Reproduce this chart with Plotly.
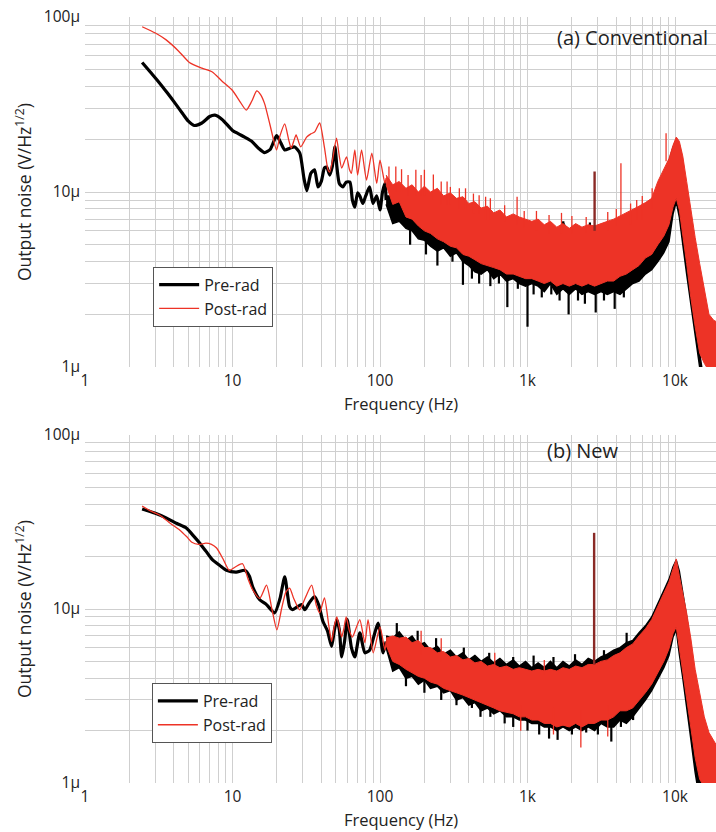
import plotly.graph_objects as go

# ---------------- data (values in µV/√Hz, frequency in Hz) ----------------
# low-frequency traces, panel (a) Conventional
PRE_A_F = [2.44, 2.8, 3.2, 3.6, 4.1, 4.6, 5.0, 5.5, 6.2, 7.0, 7.6, 8.5, 10, 11, 12.1, 13.5, 15, 16.5, 18, 19.9,
           21, 22.6, 24.5, 26.4, 28.6, 30.5, 31.9, 34, 36, 38, 40, 42, 43.5, 45.6, 47.5, 49.5, 51, 53, 56, 59,
           62.5, 65, 67.5, 70.5, 73, 76.5, 80, 85, 89.6, 95, 100, 104, 108, 110]
PRE_A_V = [55, 48, 42, 37, 32, 28, 25.5, 24, 24.8, 27, 27.5, 26, 22.5, 21.5, 20.6, 19.5, 17.8, 16.8, 17.5, 21,
           19.5, 17.4, 17.8, 18.1, 16.7, 12, 10.2, 12.8, 13.4, 10.7, 11.5, 13.7, 13.9, 12.5, 14, 18.1, 14, 11.2, 10.7, 11.4,
           11.4, 9.0, 8.2, 9.9, 9.5, 8.6, 9.5, 10.7, 8.6, 9.5, 7.9, 10, 11.2, 9.0]
POST_A_F = [2.44, 3.0, 3.55, 4.3, 5.1, 6.2, 7.3, 8.5, 10, 11.2, 12.4, 13.5, 14.6, 15.5, 16.5, 18, 19.9, 21, 22.6, 24,
            25, 26, 27, 29, 31.8, 34, 36, 39, 42, 44.4, 45.6, 47.5, 50.7, 53, 55, 59.3, 62, 64, 67.5, 70.5,
            75, 81, 88, 95, 100, 108, 110]
POST_A_V = [88, 81, 74, 64, 55, 51, 48.5, 43, 38, 33, 29.4, 33, 37.8, 36, 32, 24, 17.4, 21, 24.5, 20,
            17.8, 19.5, 21.2, 18.1, 20.6, 21.5, 22, 24.8, 18, 13.4, 13, 15, 20.3, 16, 13.7, 15.9, 13.5, 12.8, 17.4, 12.5,
            17.4, 11.7, 16.7, 11.2, 15.2, 11.2, 12.0]

# low-frequency traces, panel (b) New
PRE_B_F = [2.44, 3.0, 3.55, 4.2, 4.86, 5.4, 6.0, 6.6, 7.3, 8.2, 9.1, 10.6, 12.1, 13.0, 13.7, 15.3, 17, 19.3, 21, 22.6,
           24.4, 25.5, 27.5, 29.4, 30.9, 33, 36, 38.5, 41, 44, 47, 49, 51, 53, 55, 57.5, 60, 64, 67.5, 73,
           79, 85, 91, 97, 105, 110]
PRE_B_V = [37.6, 35.5, 33.4, 31, 29.2, 26.5, 23.9, 21.5, 19.2, 17.8, 16.7, 16.3, 16.7, 15.5, 13.4, 11.3, 10.6, 9.5, 11.5, 15.3,
           10.3, 9.9, 10.3, 10.6, 9.9, 10.8, 11.8, 10.5, 8.5, 7.5, 6.1, 7.5, 8.7, 7.6, 5.3, 6.5, 8.7, 6.0, 5.3, 7.3,
           5.6, 5.8, 7.0, 8.3, 5.6, 6.5]
POST_B_F = [2.44, 2.8, 3.2, 3.8, 4.4, 4.9, 5.3, 5.9, 6.6, 7.2, 7.8, 8.6, 9.5, 10.5, 11.7, 12.7, 13.7, 15.3, 17, 18.5,
            20, 21.5, 23, 24.4, 26, 28.5, 31, 34.4, 37, 39, 42, 45, 47, 49, 51, 53, 55, 57, 59, 62,
            65, 69, 73, 79, 83, 90, 100, 108, 110]
POST_B_V = [39, 36.5, 34.7, 31, 28.4, 26, 24.2, 23.5, 23.9, 23.5, 22.4, 19.5, 16.7, 17.5, 18.2, 15, 12.9, 11.5, 13.7, 10,
            7.6, 10, 12.5, 13.2, 11.5, 9.9, 11.5, 13.7, 10.5, 9.5, 11.6, 8.0, 6.5, 8.0, 9.0, 7.8, 6.9, 7.8, 9.0, 7.5,
            6.9, 7.8, 8.7, 6.4, 8.7, 5.6, 7.9, 5.8, 6.5]

# dense-noise region: envelope (upper / lower) of each spectrum
BAND_F = [110, 122, 135, 150, 165, 182, 200, 220, 245, 270,
          300, 330, 365, 400, 440, 485, 535, 590, 650, 720,
          800, 880, 970, 1070, 1180, 1300, 1430, 1580, 1740, 1920,
          2120, 2340, 2580, 2850, 3150, 3480, 3840, 4240, 4680, 5170,
          5700, 6300, 6950, 7650, 8400, 9100, 9700, 10200, 10700, 11300,
          12000, 12800, 13700, 14700, 15800, 17000, 18300, 19500]

PRE_A_UP = [9.5, 9.5, 10.2, 9.0, 9.3, 8.2, 8.8, 7.8, 8.2, 7.3,
            7.7, 7.0, 7.3, 6.6, 7.0, 6.4, 6.8, 6.2, 6.6, 6.0,
            6.4, 5.9, 6.3, 5.8, 6.2, 5.8, 6.3, 5.8, 6.7, 5.9,
            6.2, 6.0, 6.3, 6.1, 6.4, 6.3, 6.5, 6.8, 7.2, 7.6,
            8.0, 8.5, 9.0, 10.5, 12.8, 15.0, 18.0, 19.8, 18.5, 14.5,
            8.5, 5.6, 2.5, 1.2, 0.8, 0.6, 0.45, 0.35]
PRE_A_LO = [8.5, 6.6, 6.8, 6.2, 6.0, 5.4, 5.3, 4.9, 4.6, 4.8,
            4.3, 4.5, 4.0, 3.8, 3.5, 3.4, 3.6, 3.2, 3.4, 3.1,
            3.2, 3.0, 2.9, 3.0, 2.9, 2.7, 3.0, 2.6, 2.8, 2.6,
            2.8, 2.6, 2.7, 2.6, 2.7, 2.6, 2.7, 2.6, 2.8, 3.0,
            3.1, 3.4, 3.6, 4.0, 4.5, 5.2, 7.5, 8.8, 7.2, 5.0,
            3.4, 2.2, 1.5, 1.0, 0.7, 0.5, 0.35, 0.25]
POST_A_UP = [12.5, 11.0, 11.5, 10.5, 11.0, 10.0, 10.8, 10.0, 10.5, 9.5,
             9.9, 9.2, 9.4, 8.6, 8.8, 8.1, 8.3, 7.6, 7.9, 7.2,
             7.5, 7.2, 7.0, 6.8, 7.0, 6.5, 6.8, 6.3, 6.6, 6.2,
             6.6, 6.3, 6.5, 6.4, 6.6, 6.8, 7.0, 7.3, 7.6, 7.9,
             8.3, 8.7, 9.2, 11.5, 13.5, 15.5, 18.5, 20.6, 19.5, 16.0,
             11.5, 7.9, 5.5, 3.9, 2.8, 2.0, 1.85, 1.8]
POST_A_LO = [11.0, 8.5, 8.8, 7.2, 7.0, 6.4, 6.0, 5.8, 5.4, 5.2,
             4.9, 4.8, 4.4, 4.3, 4.1, 3.9, 3.8, 3.7, 3.6, 3.4,
             3.4, 3.3, 3.2, 3.2, 3.1, 3.0, 3.1, 2.9, 3.0, 2.9,
             3.0, 2.9, 3.0, 2.9, 3.0, 3.1, 3.1, 3.3, 3.4, 3.6,
             3.8, 4.2, 4.4, 5.0, 5.6, 6.5, 8.2, 9.2, 7.9, 5.5,
             3.9, 2.5, 1.7, 1.2, 1.05, 0.95, 0.9, 0.85]

PRE_B_UP = [7.0, 6.8, 7.4, 6.6, 7.0, 6.2, 6.4, 5.8, 6.1, 5.5,
            5.8, 5.3, 5.6, 5.1, 5.4, 5.0, 5.3, 4.9, 5.2, 4.8,
            5.1, 4.7, 5.0, 4.6, 4.9, 4.6, 5.0, 4.6, 5.0, 4.7,
            5.1, 4.8, 5.2, 5.0, 5.3, 5.5, 5.8, 6.0, 6.4, 6.6,
            7.3, 8.0, 9.0, 10.8, 12.8, 14.8, 17.5, 19.1, 16.5, 12.5,
            9.0, 6.0, 3.8, 2.2, 1.3, 0.8, 0.5, 0.35]
PRE_B_LO = [6.0, 4.4, 4.6, 4.0, 4.1, 3.7, 3.9, 3.5, 3.6, 3.3,
            3.4, 3.0, 3.1, 2.8, 2.9, 2.6, 2.7, 2.5, 2.6, 2.4,
            2.4, 2.3, 2.3, 2.2, 2.2, 2.1, 2.1, 2.0, 2.1, 2.0,
            2.1, 2.0, 2.1, 2.0, 2.2, 2.1, 2.1, 2.3, 2.2, 2.4,
            2.7, 3.0, 3.4, 4.0, 4.6, 5.4, 6.9, 7.6, 5.5, 4.0,
            2.8, 1.8, 1.15, 0.8, 0.55, 0.4, 0.3, 0.2]
POST_B_UP = [6.8, 7.0, 6.8, 6.9, 6.4, 6.6, 6.0, 6.0, 5.6, 5.7,
             5.3, 5.4, 5.1, 5.2, 4.9, 5.0, 4.7, 4.8, 4.6, 4.7,
             4.5, 4.6, 4.5, 4.4, 4.5, 4.4, 4.5, 4.4, 4.6, 4.5,
             4.7, 4.6, 4.8, 4.8, 5.0, 5.1, 5.4, 5.6, 6.0, 6.3,
             7.0, 7.7, 8.7, 10.4, 12.2, 14.3, 17.0, 19.4, 15.5, 12.3,
             9.5, 6.8, 4.5, 3.3, 2.4, 1.95, 1.75, 1.6]
POST_B_LO = [6.2, 5.0, 4.8, 4.5, 4.3, 4.1, 4.0, 3.8, 3.7, 3.5,
             3.4, 3.3, 3.2, 3.1, 3.0, 2.9, 2.8, 2.7, 2.6, 2.55,
             2.5, 2.4, 2.4, 2.3, 2.3, 2.2, 2.2, 2.1, 2.15, 2.1,
             2.2, 2.1, 2.2, 2.2, 2.3, 2.3, 2.4, 2.6, 2.6, 2.7,
             3.0, 3.3, 3.7, 4.3, 5.0, 5.9, 7.2, 7.9, 6.0, 4.3,
             3.0, 2.1, 1.4, 1.05, 0.95, 0.9, 0.85, 0.8]

# individual noise excursions (thin vertical strokes): frequency, low end, high end
PRE_A_SPK_F = [160, 205, 245, 310, 365, 420, 470, 560, 640, 730, 860, 1000, 1100, 1250, 1450, 1650, 1900, 2200,
               2450, 2900, 3300, 3900, 4500, 1750, 2650]
PRE_A_SPK_LO = [5.0, 4.4, 3.8, 4.0, 2.95, 3.2, 3.0, 2.9, 3.0, 2.2, 2.8, 1.7, 2.6, 2.5, 2.6, 2.4, 2.0, 2.4,
                2.3, 2.05, 2.4, 2.15, 2.5, 5.8, 5.9]
PRE_A_SPK_HI = [6.5, 6.0, 5.5, 5.0, 4.5, 4.2, 4.0, 3.8, 3.7, 3.6, 3.5, 3.4, 3.3, 3.2, 3.2, 3.1, 3.1, 3.1,
                3.1, 3.1, 3.1, 3.2, 3.4, 6.8, 6.7]
POST_A_SPK_F = [115, 128, 140, 155, 175, 190, 200, 230, 260, 285, 300, 345, 380, 430, 470, 520, 560, 700, 850,
                950, 1150, 1400, 1700, 2000, 2500, 3500, 4000, 5000, 5500, 6000, 7000, 8700]
POST_A_SPK_LO = [11, 10, 10, 9.5, 9.5, 9.5, 9.5, 9.0, 8.5, 8.5, 8.5, 8.0, 8.0, 7.5, 7.5, 7.0, 7.0, 6.8, 6.5,
                 6.3, 6.0, 5.8, 5.8, 5.8, 5.9, 6.0, 6.4, 6.5, 7.0, 7.0, 8.0, 15.0]
POST_A_SPK_HI = [14, 14, 13.5, 12.5, 13.4, 12.5, 13.4, 12.6, 11.5, 11.5, 10.7, 10.5, 10.5, 9.8, 9.6, 9.4, 9.2, 8.4, 9.4,
                 7.8, 7.8, 7.4, 7.6, 7.3, 7.2, 7.7, 8.0, 8.6, 9.0, 9.5, 10.5, 21.7]
PRE_B_SPK_F = [150, 200, 260, 330, 420, 480, 560, 700, 800, 1000, 1200, 1400, 1600, 2000, 2500, 3000, 3700, 4300,
               5200, 130, 180, 240, 370, 550, 800, 1100, 1500, 2100, 3300, 4700]
PRE_B_SPK_LO = [3.6, 3.3, 3.0, 2.8, 2.7, 2.4, 2.4, 2.2, 2.1, 2.0, 1.9, 1.8, 1.77, 1.9, 1.95, 1.9, 1.73, 2.1,
                2.3, 6.0, 5.8, 5.5, 5.0, 4.6, 4.4, 4.3, 4.3, 4.5, 4.8, 5.8]
PRE_B_SPK_HI = [4.5, 4.2, 4.0, 3.7, 3.4, 3.3, 3.2, 3.0, 2.9, 2.8, 2.7, 2.6, 2.6, 2.6, 2.6, 2.7, 2.7, 2.9,
                3.1, 8.3, 7.5, 6.8, 6.0, 5.6, 5.3, 5.4, 5.3, 5.5, 5.8, 7.3]
POST_B_SPK_F = [900, 1500, 2300, 3500, 190, 260, 600, 1300]
POST_B_SPK_LO = [2.0, 1.9, 1.6, 1.85, 5.5, 5.0, 4.5, 4.2]
POST_B_SPK_HI = [2.8, 2.7, 2.6, 2.8, 7.5, 6.8, 5.6, 5.1]

# narrow spurs (tones)
SPUR_A_F = [2850, 4300]
SPUR_A_LO = [6.0, 7.0]
SPUR_A_HI = [13.1, 14.6]
SPUR_B_F = [2830]
SPUR_B_LO = [4.8]
SPUR_B_HI = [27.4]

X_TICKS = [1, 10, 100, 1000, 10000]
X_TEXT = ["1", "10", "100", "1k", "10k"]
Y_TICKS = [1, 10, 100]
Y_TEXT = ["1µ", "10µ", "100µ"]
X_MINOR = [m * d for d in (1, 10, 100, 1000) for m in range(2, 10)]
Y_MINOR = [m * d for d in (1, 10) for m in range(2, 10)]

BLACK = "#000000"
RED = "#ED3326"
DARKRED = "#8A2A26"
GRID = "#cfcfcf"
FONT = "Open Sans"
TXT = "#222222"

fig = go.Figure()


def strokes(fs, los, his):
    xs, ys = [], []
    for f, lo, hi in zip(fs, los, his):
        xs += [f, f, None]
        ys += [lo, hi, None]
    return xs, ys


def add_panel(xa, ya, pre_f, pre_v, post_f, post_v, pre_up, pre_lo, post_up, post_lo,
              pre_spk, post_spk, spur, legend):
    # pre-rad (black)
    fig.add_trace(go.Scatter(x=BAND_F + BAND_F[::-1], y=pre_up + pre_lo[::-1], fill="toself",
                             fillcolor=BLACK, mode="lines", line=dict(color=BLACK, width=1.5),
                             xaxis=xa, yaxis=ya, showlegend=False, hoverinfo="skip"))
    sx, sy = strokes(*pre_spk)
    fig.add_trace(go.Scatter(x=sx, y=sy, mode="lines", line=dict(color=BLACK, width=2.2),
                             xaxis=xa, yaxis=ya, showlegend=False, hoverinfo="skip"))
    fig.add_trace(go.Scatter(x=pre_f, y=pre_v, mode="lines", name="Pre-rad",
                             line=dict(color=BLACK, width=3.2, shape="spline", smoothing=0.6),
                             xaxis=xa, yaxis=ya, legend=legend))
    # post-rad (red)
    fig.add_trace(go.Scatter(x=BAND_F + BAND_F[::-1], y=post_up + post_lo[::-1], fill="toself",
                             fillcolor=RED, mode="lines", line=dict(color=RED, width=1),
                             xaxis=xa, yaxis=ya, showlegend=False, hoverinfo="skip"))
    sx, sy = strokes(*post_spk)
    fig.add_trace(go.Scatter(x=sx, y=sy, mode="lines", line=dict(color=RED, width=1.3),
                             xaxis=xa, yaxis=ya, showlegend=False, hoverinfo="skip"))
    fig.add_trace(go.Scatter(x=post_f, y=post_v, mode="lines", name="Post-rad",
                             line=dict(color=RED, width=1.3, shape="spline", smoothing=0.6),
                             xaxis=xa, yaxis=ya, legend=legend))
    fs, los, his = spur
    for i, f in enumerate(fs):
        col = DARKRED if i == 0 else RED
        fig.add_trace(go.Scatter(x=[f, f], y=[los[i], his[i]], mode="lines",
                                 line=dict(color=col, width=2.4 if i == 0 else 1.3),
                                 xaxis=xa, yaxis=ya, showlegend=False, hoverinfo="skip"))


add_panel("x", "y", PRE_A_F, PRE_A_V, POST_A_F, POST_A_V, PRE_A_UP, PRE_A_LO, POST_A_UP, POST_A_LO,
          (PRE_A_SPK_F, PRE_A_SPK_LO, PRE_A_SPK_HI), (POST_A_SPK_F, POST_A_SPK_LO, POST_A_SPK_HI),
          (SPUR_A_F, SPUR_A_LO, SPUR_A_HI), "legend")
add_panel("x2", "y2", PRE_B_F, PRE_B_V, POST_B_F, POST_B_V, PRE_B_UP, PRE_B_LO, POST_B_UP, POST_B_LO,
          (PRE_B_SPK_F, PRE_B_SPK_LO, PRE_B_SPK_HI), (POST_B_SPK_F, POST_B_SPK_LO, POST_B_SPK_HI),
          (SPUR_B_F, SPUR_B_LO, SPUR_B_HI), "legend2")


def xaxis(anchor):
    return dict(type="log", range=[0, 4.278], anchor=anchor, domain=[0, 1],
                tickvals=X_TICKS, ticktext=X_TEXT, showgrid=True, gridcolor=GRID, gridwidth=1,
                minor=dict(tickvals=X_MINOR, showgrid=True, gridcolor=GRID, gridwidth=1, ticks=""),
                zeroline=False, showline=False, ticks="", ticklabelstandoff=2,
                tickfont=dict(size=15.5, color=TXT))


def yaxis(anchor, dom):
    return dict(type="log", range=[0, 2], anchor=anchor, domain=dom,
                tickvals=Y_TICKS, ticktext=Y_TEXT, showgrid=True, gridcolor=GRID, gridwidth=1,
                minor=dict(tickvals=Y_MINOR, showgrid=True, gridcolor=GRID, gridwidth=1, ticks=""),
                zeroline=False, showline=False, ticks="", ticklabelstandoff=4,
                tickfont=dict(size=15.5, color=TXT),
                title=dict(text="Output noise (V/Hz<sup>1/2</sup>)", font=dict(size=17.5, color=TXT),
                           standoff=7))


legend_style = dict(bgcolor="white", bordercolor="#555", borderwidth=1,
                    font=dict(size=16, family=FONT, color=TXT), xanchor="left", yanchor="top",
                    tracegroupgap=0, itemwidth=40)

fig.update_layout(
    width=716, height=832,
    margin=dict(l=85, r=0, t=17, b=49),
    paper_bgcolor="white", plot_bgcolor="white",
    font=dict(family=FONT, color=TXT),
    xaxis=xaxis("y"), yaxis=yaxis("x", [0.543, 1.0]),
    xaxis2=xaxis("y2"), yaxis2=yaxis("x2", [0.0, 0.4543]),
    legend=dict(x=0.108, y=0.674, **legend_style),
    legend2=dict(x=0.106, y=0.1305, **legend_style),
    annotations=[
        dict(text="(a) Conventional", x=0.99, y=0.9726, xref="paper", yref="paper",
             xanchor="right", yanchor="middle", showarrow=False, font=dict(size=20, color=TXT)),
        dict(text="(b) New", x=0.789, y=0.4347, xref="paper", yref="paper",
             xanchor="center", yanchor="middle", showarrow=False, font=dict(size=20, color=TXT)),
        dict(text="Frequency (Hz)", x=0.5, y=0.4955, xref="paper", yref="paper",
             xanchor="center", yanchor="middle", showarrow=False, font=dict(size=16.5, color=TXT)),
        dict(text="Frequency (Hz)", x=0.5, y=-0.047, xref="paper", yref="paper",
             xanchor="center", yanchor="middle", showarrow=False, font=dict(size=16.5, color=TXT)),
    ],
)

fig.write_html("out.html", config={"displayModeBar": False},
               post_script="document.body.style.margin='0px';")
